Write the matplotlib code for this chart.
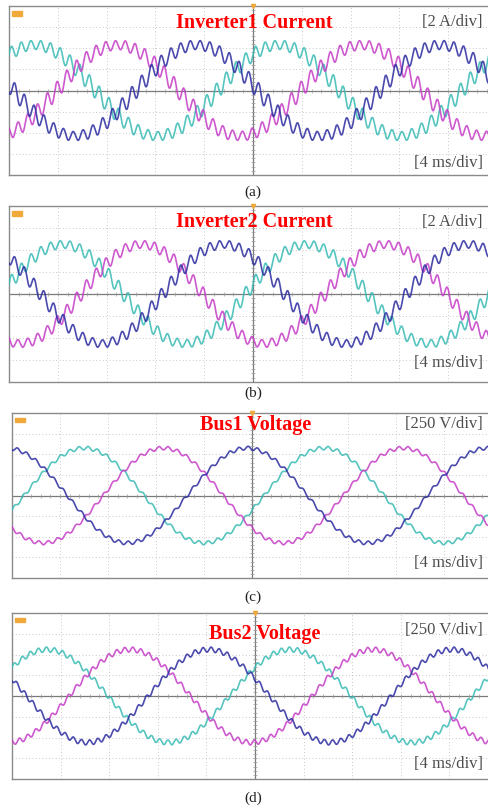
import numpy as np
import matplotlib
matplotlib.use("Agg")
import matplotlib.pyplot as plt
from matplotlib.patches import Rectangle

# scope screenshots, 4 ms/div, 10 x 8 divisions
ms_per_div = 4.0
period_ms = 20.0            # 50 Hz fundamental
phase_colors = ["#38bab4", "#c53cc6", "#2b2ba0"]   # cyan, magenta, blue

titles = ["Inverter1 Current", "Inverter2 Current", "Bus1 Voltage", "Bus2 Voltage"]
vscale_labels = ["[2 A/div]", "[2 A/div]", "[250 V/div]", "[250 V/div]"]
tscale_label = "[4 ms/div]"
panel_tags = ["(a)", "(b)", "(c)", "(d)"]
units_per_div = [2.0, 2.0, 250.0, 250.0]

# time of the positive peak of each phase (cyan, magenta, blue), ms
inv1_peak_ms = [2.1, 8.9, 15.4]
inv2_peak_ms = [4.4, 10.9, 17.6]
bus1_peak_ms = [6.0, 12.6, 19.6]
bus2_peak_ms = [2.9, 9.7, 16.2]
peak_ms = [inv1_peak_ms, inv2_peak_ms, bus1_peak_ms, bus2_peak_ms]

# fundamental amplitude (A or V) and switching ripple amplitude
amplitude = [4.3, 4.5, 575.0, 560.0]
ripple_amp = [0.8, 0.65, 22.0, 30.0]
ripple_khz = [1.25, 1.25, 1.3, 1.5]
ripple_phase = [0.0, 2.1, 4.2]

# axes boxes in pixels: left, top, bottom, width
boxes = [(9, 6, 175, 488), (9, 206, 382, 488), (12, 413, 578, 480), (12, 613, 779, 486)]
title_xy = [(254, 23), (254, 222), (256, 425), (265, 634)]
vlabel_y = [22, 222, 424, 630]
tlabel_y = [163, 363, 563, 764]
tag_y = [192, 393, 597, 798]

W, H = 488, 806
fig = plt.figure(figsize=(W / 100, H / 100), dpi=100)

t = np.linspace(0, 10 * ms_per_div, 3000)
grid_col = "#b5b5b5"

for i in range(4):
    left, top, bottom, width = boxes[i]
    ax = fig.add_axes([left / W, 1 - bottom / H, width / W, (bottom - top) / H])
    s = units_per_div[i]
    ax.set_xlim(0, 10 * ms_per_div)
    ax.set_ylim(-4 * s, 4 * s)
    ax.set_xticks([])
    ax.set_yticks([])
    for sp in ax.spines.values():
        sp.set_color("#8a8a8a")
        sp.set_linewidth(1.0)

    # dotted graticule
    for k in range(1, 10):
        ax.axvline(k * ms_per_div, color=grid_col, lw=0.6, ls=(0, (1, 3)), zorder=1)
    for k in range(-3, 4):
        ax.axhline(k * s, color=grid_col, lw=0.6, ls=(0, (1, 3)), zorder=1)
    ax.axvline(5 * ms_per_div, color="#7a7a7a", lw=0.9, zorder=1)
    ax.axhline(0, color="#7a7a7a", lw=0.9, zorder=1)
    # minor ticks on the centre lines
    mx = np.arange(0, 10 * ms_per_div, ms_per_div / 5)
    my = np.arange(-4 * s, 4 * s, s / 5)
    ax.plot(mx, np.zeros_like(mx), "|", color="#9a9a9a", ms=2.5, mew=0.5, zorder=1)
    ax.plot(np.full_like(my, 5 * ms_per_div), my, "_", color="#9a9a9a", ms=2.5, mew=0.5, zorder=1)

    for j in range(3):
        base = amplitude[i] * np.cos(2 * np.pi * (t - peak_ms[i][j]) / period_ms)
        # in the current panels the ripple is larger near the zero crossings
        if i < 2:
            env = 0.5 + 0.5 * np.abs(np.sin(2 * np.pi * (t - peak_ms[i][j]) / period_ms))
        else:
            env = 1.0
        rip = ripple_amp[i] * env * np.sin(2 * np.pi * ripple_khz[i] * t + ripple_phase[j])
        ax.plot(t, base + rip, color=phase_colors[j], lw=1.2, alpha=0.85, zorder=3)

    # orange trigger markers
    ax.add_patch(Rectangle((0.25, 3.55 * s), 0.8, 0.2 * s, color="#f2a93b", zorder=4))
    ax.plot([5 * ms_per_div], [4 * s], marker="v", color="#f2a93b", ms=3, zorder=4, clip_on=False)

    fig.text(title_xy[i][0] / W, 1 - title_xy[i][1] / H, titles[i], color="#ff0000",
             fontsize=14.5, fontweight="bold", family="Liberation Serif",
             ha="center", va="center", zorder=5)
    fig.text(483 / W, 1 - vlabel_y[i] / H, vscale_labels[i], color="#4d4d4d",
             fontsize=12, family="Liberation Serif", ha="right", va="center")
    fig.text(483 / W, 1 - tlabel_y[i] / H, tscale_label, color="#4d4d4d",
             fontsize=12, family="Liberation Serif", ha="right", va="center")
    fig.text(253 / W, 1 - tag_y[i] / H, panel_tags[i], color="#222222",
             fontsize=11, family="Liberation Serif", ha="center", va="center")

fig.savefig("out.png", dpi=100)
